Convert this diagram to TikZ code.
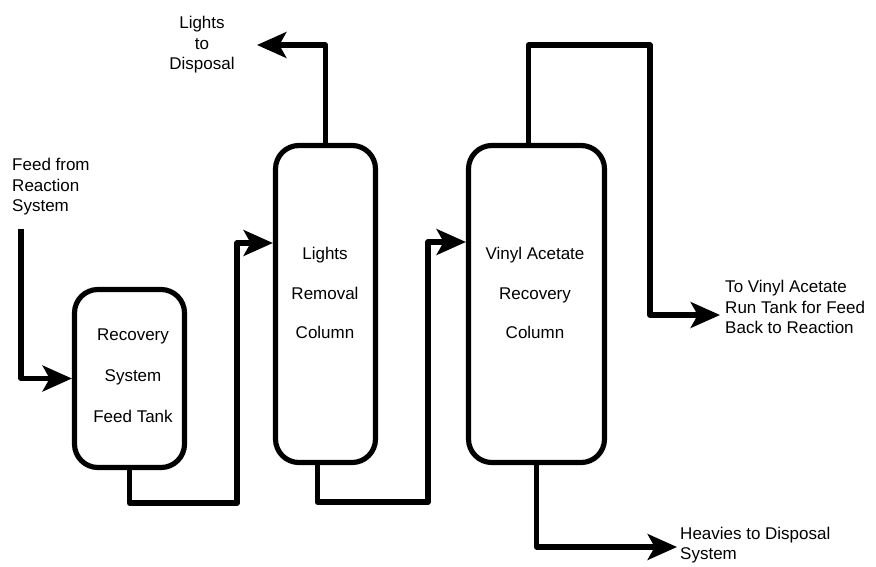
\documentclass[tikz,border=0pt]{standalone}
\usepackage{fontspec}
\setmainfont{Liberation Sans}
\usepackage{tikz}
\usetikzlibrary{arrows.meta, calc}
\newcommand{\flowfont}{\fontsize{14.5}{17.5}\selectfont}

\begin{document}
\begin{tikzpicture}[x=0.03cm, y=-0.03cm,
    vessel/.style={draw, line width=4.4pt, rounded corners=20pt, inner sep=0pt},
    pipe/.style={line width=4.4pt, line join=round, -{Stealth[length=25pt, width=22pt, inset=6pt]}},
    tag/.style={font=\flowfont, inner sep=0pt}]
            \useasboundingbox (0,0) rectangle (876,567);
            \node[vessel, minimum width=3.3cm, minimum height=5.34cm] (tank) at (129.5,378.5) {};
            \node[vessel, minimum width=3.0cm, minimum height=9.51cm] (lights) at (325.5,304) {};
            \node[vessel, minimum width=4.08cm, minimum height=9.51cm] (vac) at (536.5,304) {};
            \node[tag, align=center] (tanktext) at (133,376) {Recovery\\[17.5pt]System\\[17.5pt]Feed Tank};
            \node[tag, align=center] (lightstext) at (325,293) {Lights\\[16.5pt]Removal\\[16.5pt]Column};
            \node[tag, align=center] (vactext) at (535,293) {Vinyl Acetate\\[16.5pt]Recovery\\[16.5pt]Column};
            \node[tag, align=left, anchor=west] (feedtext) at (12,187) {Feed from\\Reaction\\System};
            \node[tag, align=center] (lightsouttext) at (202,45) {Lights\\to\\Disposal};
            \node[tag, align=left, anchor=west] (vacouttext) at (725,307) {To Vinyl Acetate\\Run Tank for Feed\\Back to Reaction};
            \node[tag, align=left, anchor=west] (heavytext) at (680,545) {Heavies to Disposal\\System};
            \coordinate (feed) at (21,229);
            \coordinate (lightsout) at (257,45);
            \coordinate (vacout) at (720,315);
            \coordinate (heavyout) at (677,547);
            \draw[pipe] (feed) |- (tank.west);
            \draw[pipe] (tank.south) |- (237,503) |- (lights.west |- 0,243);
            \draw[pipe] ([xshift=-7pt]lights.south) |- (428,502) |- (vac.west |- 0,242);
            \draw[pipe] (lights.north) |- (lightsout);
            \draw[pipe] ([xshift=-7pt]vac.north) |- (650,45) |- (vacout);
            \draw[pipe] (vac.south) |- (heavyout);
          \end{tikzpicture}
\end{document}
